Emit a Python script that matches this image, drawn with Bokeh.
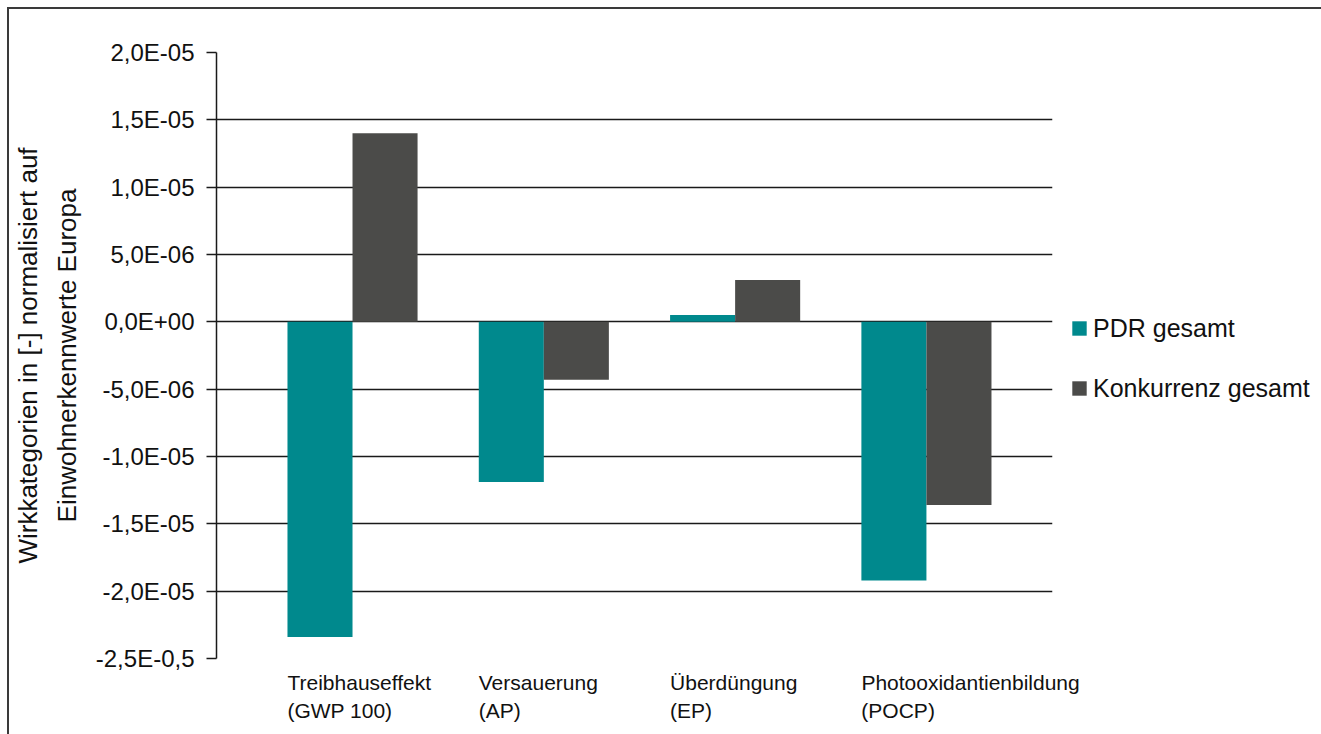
from bokeh.plotting import figure
from bokeh.models import FixedTicker, Legend, LegendItem, ColumnDataSource, Range1d
from bokeh.transform import dodge
from bokeh.embed import file_html
from bokeh.resources import INLINE

categories = ["Treibhauseffekt\n(GWP 100)", "Versauerung\n(AP)",
              "Überdüngung\n(EP)", "Photooxidantienbildung\n(POCP)"]
positions = [1, 2, 3, 4]
pdr_gesamt = [-2.34e-5, -1.19e-5, 0.05e-5, -1.92e-5]
konkurrenz_gesamt = [1.40e-5, -0.43e-5, 0.31e-5, -1.36e-5]
y_ticks = [-2.5e-5, -2.0e-5, -1.5e-5, -1.0e-5, -0.5e-5, 0.0, 0.5e-5, 1.0e-5, 1.5e-5, 2.0e-5]
y_tick_labels = ["-2,5E-0,5", "-2,0E-05", "-1,5E-05", "-1,0E-05", "-5,0E-06",
                 "0,0E+00", "5,0E-06", "1,0E-05", "1,5E-05", "2,0E-05"]
series_names = ["PDR gesamt", "Konkurrenz gesamt"]
colors = ["#00898D", "#4B4B49"]

BAR_W = 0.34
FONT = "Liberation Sans"

src = ColumnDataSource(dict(x=positions, pdr=pdr_gesamt, konk=konkurrenz_gesamt))

p = figure(frame_width=836, frame_height=606,
           x_range=Range1d(0.629, 4.999), y_range=Range1d(-2.5e-5, 2.0e-5),
           output_backend="svg", toolbar_location=None,
           min_border_left=200, min_border_right=262, min_border_top=43, min_border_bottom=66)
p.styles = {"border-top": "2px solid #3a3a3a", "border-left": "2px solid #3a3a3a",
            "margin-top": "7px", "margin-left": "7px"}
p.outline_line_color = None
p.background_fill_color = "white"

r1 = p.vbar(x=dodge("x", BAR_W / 2, range=p.x_range), top="pdr", bottom=0, width=BAR_W,
            source=src, color=colors[0], line_color=None)
r2 = p.vbar(x=dodge("x", 1.5 * BAR_W, range=p.x_range), top="konk", bottom=0, width=BAR_W,
            source=src, color=colors[1], line_color=None)

# grid
p.xgrid.grid_line_color = None
p.ygrid.ticker = FixedTicker(ticks=y_ticks)
p.ygrid.grid_line_color = "#1a1a1a"
p.ygrid.grid_line_width = 1.5

# y axis
ya = p.yaxis[0]
ya.ticker = FixedTicker(ticks=y_ticks)
ya.major_label_overrides = {t: l for t, l in zip(y_ticks, y_tick_labels)}
ya.major_label_text_font = FONT
ya.major_label_text_font_size = "24px"
ya.major_label_text_color = "#111111"
ya.major_tick_out = 10
ya.major_tick_in = 0
ya.minor_tick_line_color = None
ya.major_tick_line_color = "#1a1a1a"
ya.major_tick_line_width = 1.5
ya.axis_line_color = "#1a1a1a"
ya.axis_line_width = 1.5
ya.major_label_standoff = 12
ya.axis_label = "Wirkkategorien in [-] normalisiert auf\nEinwohnerkennwerte Europa"
ya.axis_label_text_font = FONT
ya.axis_label_text_font_size = "26px"
ya.axis_label_text_font_style = "normal"
ya.axis_label_text_color = "#111111"
ya.axis_label_text_line_height = 1.3
ya.axis_label_standoff = 11

# x axis
xa = p.xaxis[0]
xa.ticker = FixedTicker(ticks=positions)
xa.major_label_overrides = {k: c for k, c in zip(positions, categories)}
xa.major_label_orientation = -1e-6
xa.major_label_text_align = "left"
xa.major_label_text_font = FONT
xa.major_label_text_font_size = "21px"
xa.major_label_text_color = "#111111"
xa.major_label_standoff = 32
xa.major_tick_line_color = None
xa.minor_tick_line_color = None
xa.axis_line_color = None

legend = Legend(items=[LegendItem(label=series_names[0], renderers=[r1]),
                       LegendItem(label=series_names[1], renderers=[r2])],
                location=(18, 255), padding=0, margin=0, spacing=30,
                glyph_width=18, glyph_height=18, label_standoff=5, label_height=30,
                label_text_font=FONT, label_text_font_size="25px",
                label_text_color="#111111",
                border_line_color=None, background_fill_alpha=0)
p.add_layout(legend, "right")

open("out.html", "w").write(file_html(p, INLINE))
